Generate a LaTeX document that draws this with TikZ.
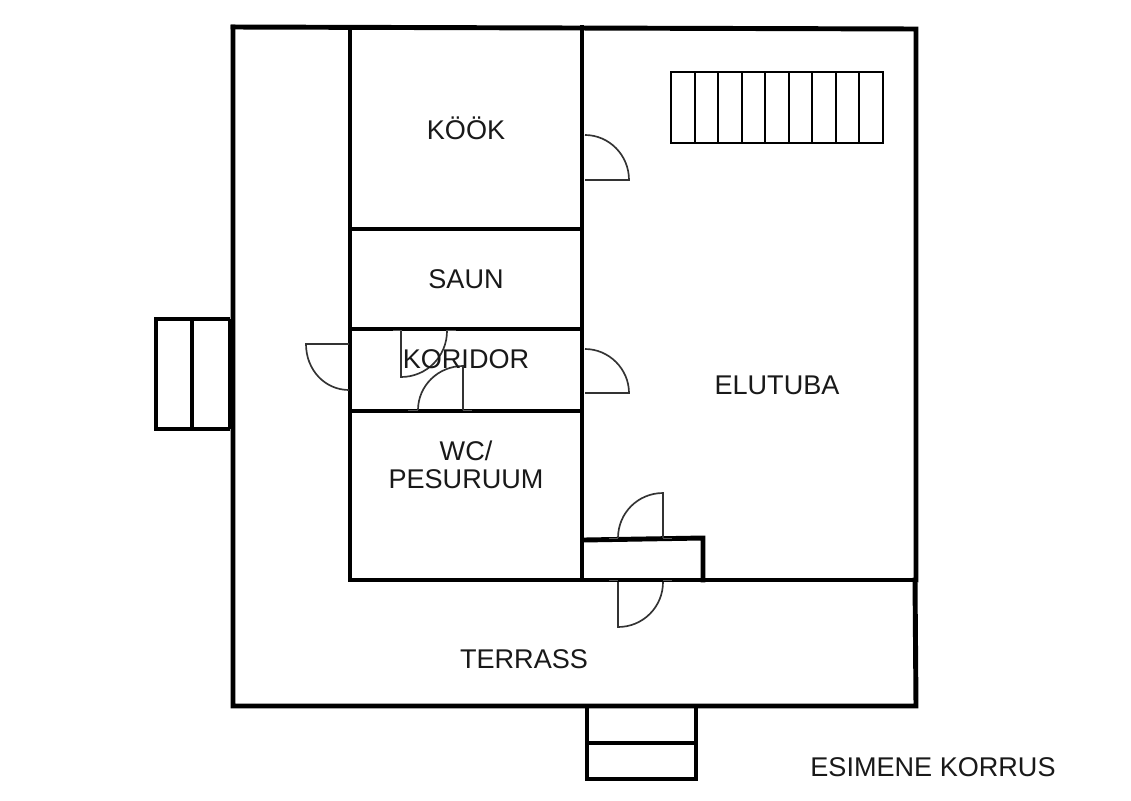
\documentclass[tikz,border=0pt]{standalone}
\usepackage{fontspec}
\setmainfont{Liberation Sans}
\tikzset{
  wall/.style={line width=3.7pt,black,line cap=rect},
  thinwall/.style={line width=2.7pt,black},
  tread/.style={line width=2.1pt,black},
  doorline/.style={line width=1.25pt,black!80},
  tick/.style={line width=0.6pt,black!65},
  lbl/.style={font=\fontsize{20.3}{20.3}\selectfont,text=black!90,inner sep=0pt,align=center}
}
\begin{document}
\begin{tikzpicture}[x=0.75pt,y=-0.75pt]
\useasboundingbox (0,0) rectangle (1131,800);
\fill[white] (0,0) rectangle (1131,800);
% outer shell
\draw[wall] (233,27) -- (916,29) -- (916,580);
\draw[wall] (233,27) -- (233,706) -- (916,706) -- (915,580);
% inner walls
\draw[wall] (350,27) -- (350,580) -- (916,580);
\draw[wall] (582,27) -- (582,580);
\draw[wall] (350,229) -- (582,229);
\draw[wall] (350,329) -- (582,329);
\draw[wall] (350,411) -- (582,411);
\draw[wall] (584,540) -- (703,538) -- (703,580);
% stairs top right
\draw[tread] (671,72) rectangle (883,143);
\foreach \x in {695,718,742,765,789,812,836,859}
  \draw[tread] (\x,72) -- (\x,143);
% stairs left
\draw[thinwall] (230,319) -- (156,319) -- (156,429) -- (230,429);
\draw[thinwall] (192,319) -- (192,429);
\fill[black] (228,319) rectangle (235,429);
% stairs bottom
\draw[thinwall] (587,706) -- (587,779) -- (696,779) -- (696,706);
\draw[thinwall] (587,743) -- (696,743);
% doors
\draw[doorline] (585,135) .. controls (609,135) and (629,155) .. (629,180) -- (585,180);
\draw[doorline] (585,349) .. controls (609,349) and (629,369) .. (629,393) -- (585,393);
\draw[doorline] (349,344) -- (306,344) .. controls (306,370) and (325,390) .. (349,390);
\draw[doorline] (401,331) -- (401,377) .. controls (427,377) and (447,356) .. (447,331);
\draw[doorline] (463,410) -- (463,366) .. controls (438,366) and (418,386) .. (418,410);
\draw[doorline] (663,538) -- (663,493) .. controls (638,493) and (618,513) .. (618,538);
\draw[doorline] (618,582) -- (618,627) .. controls (643,627) and (663,607) .. (663,582);
% door ticks on the walls
\foreach \a/\b in {393/402,446/456}
  \draw[tick] (\a,330) -- (\b,330);
\foreach \a/\b in {408/418,463/472}
  \draw[tick] (\a,410) -- (\b,410);
\foreach \a/\b in {609/618,663/672}{
  \draw[tick] (\a,538.5) -- (\b,538.5);
  \draw[tick] (\a,580.5) -- (\b,580.5);
}
% labels
\node[lbl] (kook) at (466,128) {KÖÖK};
\node[lbl] (saun) at (466,279) {SAUN};
\node[lbl] (koridor) at (466,359) {KORIDOR};
\node[lbl] (wc) at (466,451) {WC/};
\node[lbl] (pesuruum) at (466,479) {PESURUUM};
\node[lbl] (elutuba) at (777,385) {ELUTUBA};
\node[lbl] (terrass) at (524,659) {TERRASS};
\node[lbl] (korrus) at (933,767) {ESIMENE KORRUS};
\end{tikzpicture}
\end{document}
